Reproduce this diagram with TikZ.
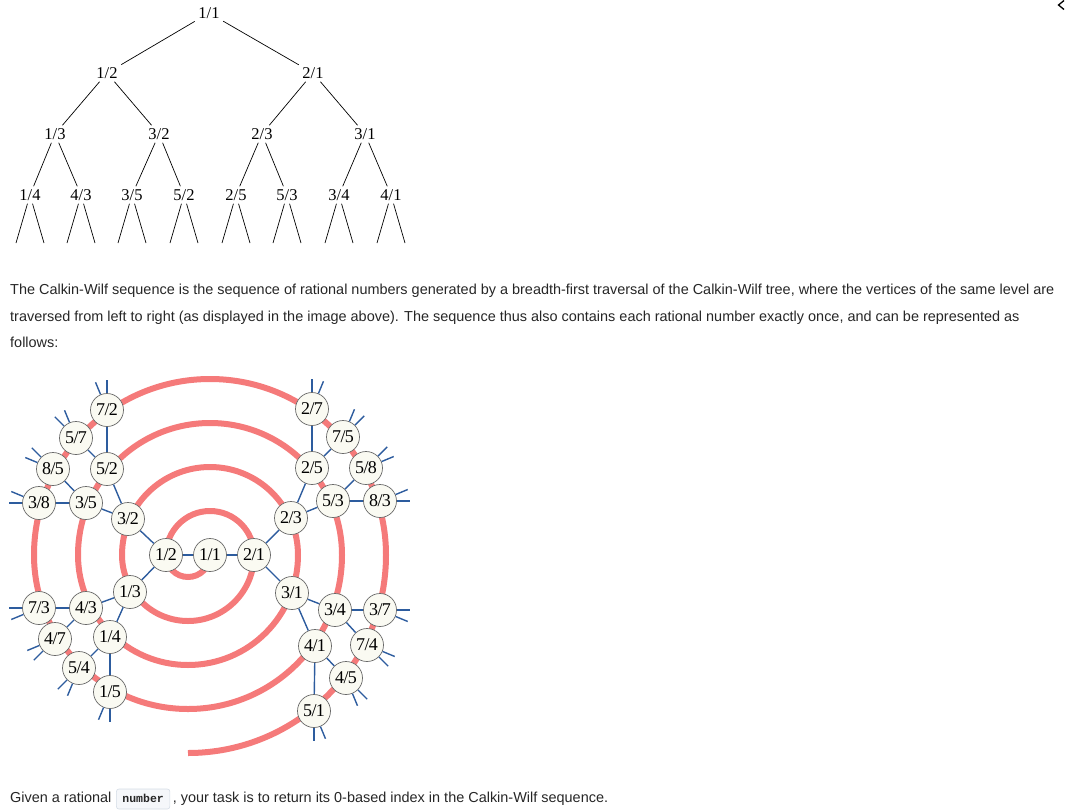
\documentclass[tikz,border=0pt]{standalone}
\usepackage{fontspec}
\setmainfont{Liberation Serif}
\newfontfamily\sansf{Liberation Sans}
\newfontfamily\monof{Liberation Mono}
\definecolor{spiralred}{RGB}{245,122,122}
\definecolor{edgeblue}{RGB}{45,92,158}
\definecolor{nodefill}{RGB}{250,250,242}
\definecolor{nodeline}{RGB}{105,105,105}
\definecolor{bodytext}{RGB}{38,38,38}
\definecolor{codebg}{RGB}{245,247,250}
\definecolor{codeborder}{RGB}{212,220,230}
\begin{document}
\begin{tikzpicture}[x=1pt,y=1pt,
  tlabel/.style={font=\fontsize{16.5}{16.5}\selectfont, inner xsep=3.5pt, inner ysep=3pt},
  tedge/.style={draw=black, line width=0.7pt},
  snode/.style={circle, draw=nodeline, line width=0.7pt, fill=nodefill, minimum size=33pt, inner sep=0pt, font=\fontsize{18}{18}\selectfont},
  sedge/.style={draw=edgeblue, line width=1.4pt},
  spiral/.style={draw=spiralred, line width=6pt},
  para/.style={font=\sansf\fontsize{14.45}{14.45}\selectfont, text=bodytext, anchor=base west, inner sep=0pt},
  codebox/.style={font=\monof\bfseries\fontsize{11.5}{11.5}\selectfont, text=bodytext, fill=codebg, draw=codeborder, line width=0.6pt, rounded corners=2.5pt, anchor=base west, inner xsep=6pt, inner ysep=5pt, text height=8pt, text depth=2pt},
]
\useasboundingbox (0,0) rectangle (1066,-809);

% ---------- top tree ----------
\foreach \n/\x/\y/\p/\q in {t11/209/13/1/1, t12/107/73/1/2, t21/313/73/2/1,
  t13/55/134/1/3, t32/159/134/3/2, t23/262/134/2/3, t31/365/134/3/1,
  t14/30/195/1/4, t43/81/195/4/3, t35/132/195/3/5, t52/184/195/5/2,
  t25/236/195/2/5, t53/287/195/5/3, t34/339/195/3/4, t41/391/195/4/1}
  \node[tlabel] (\n) at (\x,-\y) {\p/\q};
\foreach \a/\b in {t11/t12, t11/t21, t12/t13, t12/t32, t21/t23, t21/t31,
  t13/t14, t13/t43, t32/t35, t32/t52, t23/t25, t23/t53, t31/t34, t31/t41}
  \draw[tedge] (\a) -- (\b);
\foreach \n/\x in {t14/30, t43/81, t35/132, t52/184, t25/236, t53/287, t34/339, t41/391}{
  \coordinate (\n-l) at (\x-14,-243);
  \coordinate (\n-r) at (\x+14,-243);
  \draw[tedge] (\n) -- (\n-l);
  \draw[tedge] (\n) -- (\n-r);
}

% ---------- paragraph ----------
\node[para] (p1) at (10,-294) {The Calkin-Wilf sequence is the sequence of rational numbers generated by a breadth-first traversal of the Calkin-Wilf tree, where the vertices of the same level are};
\node[para] (p2) at (10,-321) {traversed from left to right (as displayed in the image above). The sequence thus also contains each rational number exactly once, and can be represented as};
\node[para] (p3) at (10,-347) {follows:};

% ---------- spiral ----------
\draw[spiral] (210,-555) arc[start angle=0,end angle=-180,radius=22]
  arc[start angle=180,end angle=0,radius=44]
  arc[start angle=0,end angle=-180,radius=66]
  arc[start angle=180,end angle=0,radius=88]
  arc[start angle=0,end angle=-180,radius=110]
  arc[start angle=180,end angle=0,radius=132]
  arc[start angle=0,end angle=-180,radius=154]
  arc[start angle=180,end angle=0,radius=176]
  arc[start angle=0,end angle=-90,radius=198];

\foreach \p/\q/\x/\y in {
  1/1/210/555,
  1/2/166/555, 2/1/254/555,
  1/3/130/592, 3/2/128/519, 2/3/291/518, 3/1/292/593,
  1/4/110/637, 4/3/86/608, 3/5/86/503, 5/2/107/469,
  2/5/312/468, 5/3/333/501, 3/4/335/610, 4/1/315/646,
  1/5/110/692, 5/4/79/668, 4/7/55/639, 7/3/39/608,
  3/8/39/503, 8/5/53/469, 5/7/76/438, 7/2/107/410,
  2/7/312/409, 7/5/343/437, 5/8/366/468, 8/3/380/501,
  3/7/380/610, 7/4/367/645, 4/5/346/678, 5/1/314/711}
  \node[snode] (s\p\q) at (\x,-\y) {\p\kern-.6pt/\kern-.6pt\q};

\foreach \a/\b in {11/12, 11/21, 12/13, 12/32, 21/23, 21/31,
  13/14, 13/43, 32/35, 32/52, 23/25, 23/53, 31/34, 31/41,
  14/15, 14/54, 43/47, 43/73, 35/38, 35/85, 52/57, 52/72,
  25/27, 25/75, 53/58, 53/83, 34/37, 34/74, 41/45, 41/51}
  \draw[sedge] (s\a) -- (s\b);

\foreach \n/\p/\q in {38/180/157.5, 85/157.5/135, 57/135/112.5, 72/112.5/90,
  27/90/67.5, 75/67.5/45, 58/45/22.5, 83/22.5/0,
  37/0/-22.5, 74/-22.5/-45, 45/-45/-67.5, 51/-67.5/-90,
  73/180/202.5, 47/202.5/225, 54/225/247.5, 15/247.5/270}{
  \path (s\n) ++(\p:30) coordinate (s\n-a);
  \path (s\n) ++(\q:30) coordinate (s\n-b);
  \draw[sedge] (s\n) -- (s\n-a);
  \draw[sedge] (s\n) -- (s\n-b);
}

% ---------- last line ----------
\node[para] (g1) at (10,-802) {Given a rational};
\node[codebox] (code) at ([xshift=4.5pt]g1.base east) {number};
\node[para] (g2) at ([xshift=2.5pt]code.base east) {, your task is to return its 0-based index in the Calkin-Wilf sequence.};

% ---------- corner chevron ----------
\coordinate (cv1) at (1064,-0.5);
\coordinate (cv2) at (1058.5,-5);
\coordinate (cv3) at (1064,-9.5);
\draw[line width=1.3pt, line join=miter] (cv1) -- (cv2) -- (cv3);
\end{tikzpicture}
\end{document}
